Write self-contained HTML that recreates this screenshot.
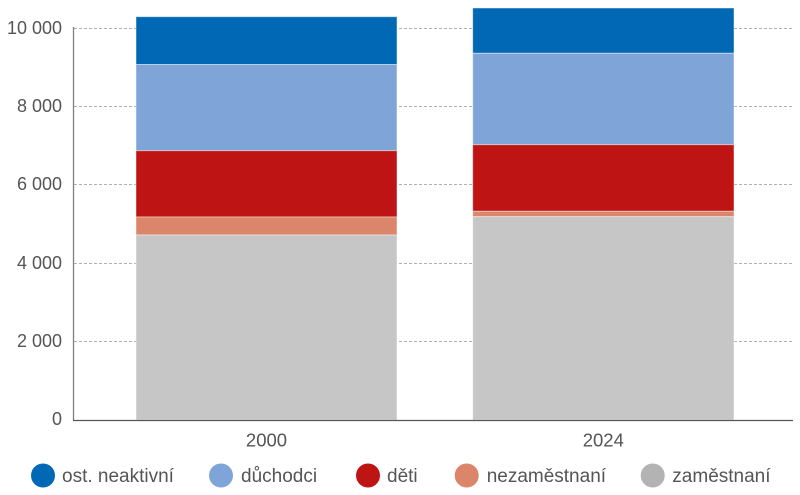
<!DOCTYPE html>
<html><head><meta charset="utf-8"><style>
html,body{margin:0;padding:0;background:#fff;}
svg{display:block;}
text{font-family:"Liberation Sans",sans-serif;fill:#555;}
</style></head><body>
<svg width="800" height="495" viewBox="0 0 800 495" xmlns="http://www.w3.org/2000/svg">
<g stroke="#b0b0b0" stroke-width="1" stroke-dasharray="3,2">
<line x1="74" y1="28.5" x2="793" y2="28.5"/>
<line x1="74" y1="106.5" x2="793" y2="106.5"/>
<line x1="74" y1="184.5" x2="793" y2="184.5"/>
<line x1="74" y1="263.5" x2="793" y2="263.5"/>
<line x1="74" y1="341.5" x2="793" y2="341.5"/>
</g>
<g stroke="rgba(255,255,255,0.45)" stroke-width="1">
<rect x="136" y="16.7" width="261" height="47.8" fill="#0068b4"/>
<rect x="136" y="64.5" width="261" height="86.2" fill="#7fa5d8"/>
<rect x="136" y="150.7" width="261" height="66.3" fill="#be1414"/>
<rect x="136" y="217" width="261" height="18" fill="#db866b"/>
<rect x="136" y="235" width="261" height="185" fill="#c6c6c6"/>
<rect x="472.7" y="8" width="261.3" height="45.3" fill="#0068b4"/>
<rect x="472.7" y="53.3" width="261.3" height="91.4" fill="#7fa5d8"/>
<rect x="472.7" y="144.7" width="261.3" height="66.6" fill="#be1414"/>
<rect x="472.7" y="211.3" width="261.3" height="5.4" fill="#db866b"/>
<rect x="472.7" y="216.7" width="261.3" height="203.3" fill="#c6c6c6"/>
</g>
<line x1="73.5" y1="27" x2="73.5" y2="420" stroke="#808080" stroke-width="1.3"/>
<line x1="73" y1="420.5" x2="793" y2="420.5" stroke="#555" stroke-width="1.3"/>
<g font-size="18" text-anchor="end">
<text x="62" y="34">10 000</text>
<text x="62" y="112">8 000</text>
<text x="62" y="190">6 000</text>
<text x="62" y="269">4 000</text>
<text x="62" y="347">2 000</text>
<text x="62" y="425">0</text>
</g>
<g font-size="18.5" text-anchor="middle">
<text x="266.5" y="446.5">2000</text>
<text x="603.3" y="446.5">2024</text>
</g>
<circle cx="43" cy="475.5" r="12" fill="#0068b4"/>
<circle cx="221" cy="475.5" r="12" fill="#7fa5d8"/>
<circle cx="368" cy="475.5" r="12" fill="#be1414"/>
<circle cx="466.7" cy="475.5" r="12" fill="#db866b"/>
<circle cx="652.7" cy="475.5" r="12" fill="#b3b3b3"/>
<g font-size="19">
<text x="62" y="482">ost. neaktivní</text>
<text x="241" y="482">důchodci</text>
<text x="387" y="482">děti</text>
<text x="486.7" y="482">nezaměstnaní</text>
<text x="672.3" y="482">zaměstnaní</text>
</g>
</svg>
</body></html>
